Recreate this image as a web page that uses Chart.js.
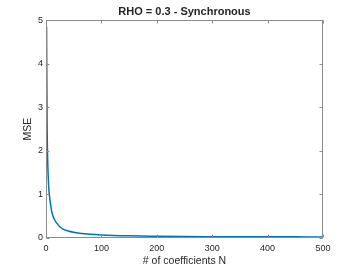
<!DOCTYPE html>
<html>
<head>
<meta charset="utf-8">
<script src="https://cdn.jsdelivr.net/npm/chart.js@4"></script>
<style>
  html, body { margin: 0; padding: 0; background: #fff; }
  #wrap { width: 357px; height: 268px; }
</style>
</head>
<body>
<div id="wrap"><canvas id="myChart" width="357" height="268"></canvas></div>
<script>
// データ
const nValues = [1, 2, 3, 4, 5, 6, 8, 10, 12, 15, 20, 25, 30, 40, 50, 60, 80, 100, 150, 200, 250, 300, 350, 400, 450, 500];
const mseValues = [4.85, 2.6, 1.8, 1.4, 1.15, 1.0, 0.8, 0.63, 0.53, 0.43, 0.33, 0.26, 0.21, 0.16, 0.13, 0.11, 0.085, 0.07, 0.05, 0.04, 0.033, 0.03, 0.028, 0.027, 0.026, 0.025];
const xTicks = [0, 100, 200, 300, 400, 500];
const yTicks = [0, 1, 2, 3, 4, 5];

const textColor = "#262626";
const boxColor = "#8c8c8c";

// 枠と内向きの目盛りを描く
const boxPlugin = {
  id: "box",
  afterDatasetsDraw(chart) {
    const { ctx, chartArea: a, scales } = chart;
    ctx.save();
    ctx.strokeStyle = boxColor;
    ctx.lineWidth = 1;
    const L = Math.round(a.left) + 0.5, R = Math.round(a.right) - 0.5;
    const T = Math.round(a.top) + 0.5, B = Math.round(a.bottom) - 0.5;
    ctx.strokeRect(L, T, R - L, B - T);
    const len = 3;
    ctx.beginPath();
    xTicks.forEach((v) => {
      const x = Math.round(scales.x.getPixelForValue(v)) + 0.5;
      ctx.moveTo(x, B); ctx.lineTo(x, B - len);
      ctx.moveTo(x, T); ctx.lineTo(x, T + len);
    });
    yTicks.forEach((v) => {
      const y = Math.round(scales.y.getPixelForValue(v)) + 0.5;
      ctx.moveTo(L, y); ctx.lineTo(L + len, y);
      ctx.moveTo(R, y); ctx.lineTo(R - len, y);
    });
    ctx.stroke();
    ctx.restore();
  },
};

const font = "'Liberation Sans', Arial, Helvetica, sans-serif";

const ctx = document.getElementById("myChart").getContext("2d");
const chart = new Chart(ctx, {
  type: "line",
  data: {
    datasets: [
      {
        data: nValues.map((n, i) => ({ x: n, y: mseValues[i] })),
        borderColor: "#0072BD",
        borderWidth: 1.5,
        pointRadius: 0,
        fill: false,
        cubicInterpolationMode: "monotone",
      },
    ],
  },
  options: {
    responsive: false,
    animation: false,
    layout: { padding: { left: 0, right: 34, top: 0, bottom: 0 } },
    plugins: {
      legend: { display: false },
      tooltip: { enabled: false },
      title: {
        display: true,
        text: "RHO = 0.3 - Synchronous",
        color: textColor,
        fullSize: false,
        font: { family: font, size: 11, weight: "bold", lineHeight: 1.2 },
        padding: { top: 5, bottom: 2 },
      },
    },
    scales: {
      x: {
        type: "linear",
        min: 0,
        max: 500,
        grid: { display: false, drawTicks: false },
        border: { display: false },
        ticks: {
          stepSize: 100,
          maxRotation: 0,
          color: textColor,
          padding: 5,
          font: { family: font, size: 9 },
        },
        title: {
          display: true,
          text: "# of coefficients N",
          color: textColor,
          font: { family: font, size: 10.5, lineHeight: 1.2 },
          padding: { top: 0, bottom: 1 },
        },
        afterFit(scale) { scale.height = 30; },
      },
      y: {
        min: 0,
        max: 5,
        grid: { display: false, drawTicks: false },
        border: { display: false },
        ticks: {
          stepSize: 1,
          color: textColor,
          padding: 3,
          font: { family: font, size: 9 },
        },
        title: {
          display: true,
          text: "MSE",
          color: textColor,
          font: { family: font, size: 10.5, lineHeight: 1.2 },
          padding: { top: 22, bottom: 0 },
        },
        afterFit(scale) { scale.width = 46; },
      },
    },
  },
  plugins: [boxPlugin],
});
</script>
</body>
</html>
